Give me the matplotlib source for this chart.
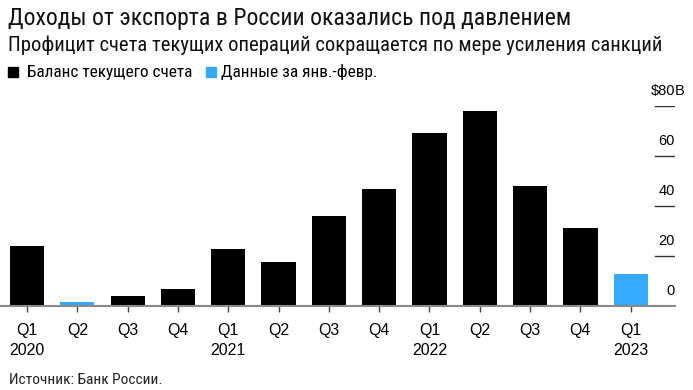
import matplotlib
matplotlib.use("Agg")
import matplotlib.pyplot as plt
import matplotlib.transforms as mtransforms
from matplotlib.patches import Rectangle

plt.rcParams['font.family'] = ['Liberation Sans', 'DejaVu Sans']
COND = ['Roboto Condensed', 'Liberation Sans', 'DejaVu Sans']

# data (current account balance, $B)
quarters = ['Q1', 'Q2', 'Q3', 'Q4', 'Q1', 'Q2', 'Q3', 'Q4', 'Q1', 'Q2', 'Q3', 'Q4', 'Q1']
years = ['2020', '', '', '', '2021', '', '', '', '2022', '', '', '', '2023']
balance = [24.0, 1.5, 4.1, 6.8, 22.8, 17.5, 35.9, 46.7, 69.3, 78.1, 48.0, 31.1, 12.7]
jan_feb_only = [False, True, False, False, False, False, False, False, False, False, False, False, True]
yticks = [0, 20, 40, 60, 80]

BLACK = '#000000'
BLUE = '#35a9fb'

W, H = 693, 390
fig = plt.figure(figsize=(W / 100, H / 100), dpi=100)
ax = fig.add_axes([0, 84 / H, 675 / W, 200 / H])

x = list(range(len(balance)))
colors = [BLUE if p else BLACK for p in jan_feb_only]
ax.bar(x, balance, width=0.68, color=colors, zorder=2)

ax.set_xlim(-0.537, 12.88)
ax.set_ylim(0, 80)

for s in ['top', 'right', 'left']:
    ax.spines[s].set_visible(False)
ax.spines['bottom'].set_color('#8a8a8a')
ax.spines['bottom'].set_linewidth(1.5)
ax.spines['bottom'].set_zorder(3)

labels = [q + '\n' + y if y else q + '\n ' for q, y in zip(quarters, years)]
ax.set_xticks(x)
ax.set_xticklabels(labels, fontsize=11.5, linespacing=1.4)
ax.tick_params(axis='x', length=4, width=1, color='#444444', pad=8.5)
ax.set_yticks([])

# right side value labels with short dashes
trans = mtransforms.blended_transform_factory(ax.transAxes, ax.transData)
for v in yticks:
    if v > 0:
        ax.axhline(v, xmin=0.970, xmax=1.0, color='#333333', lw=1.0)
    txt = '$80' if v == 80 else str(v)
    ax.annotate(txt, xy=(1.0, v), xycoords=trans, xytext=(0, 10.5), textcoords='offset points',
                ha='right', va='center', fontsize=10.5, annotation_clip=False)
ax.annotate('B', xy=(1.0, 80), xycoords=trans, xytext=(0, 10.5), textcoords='offset points',
            ha='left', va='center', fontsize=10.5, annotation_clip=False)

# titles
fig.text(8 / W, 1 - 19 / H, 'Доходы от экспорта в России оказались под давлением',
         fontsize=17.1, ha='left', va='center', color='#111111', family=COND)
fig.text(8 / W, 1 - 45 / H, 'Профицит счета текущих операций сокращается по мере усиления санкций',
         fontsize=14.9, ha='left', va='center', color='#111111', family=COND)

# legend
fig.patches.append(Rectangle((8 / W, 1 - 77 / H), 10 / W, 10 / H, transform=fig.transFigure,
                             color=BLACK, figure=fig))
fig.text(27 / W, 1 - 72 / H, 'Баланс текущего счета', fontsize=12.4, ha='left', va='center',
         family=COND)
fig.patches.append(Rectangle((206 / W, 1 - 77 / H), 10 / W, 10 / H, transform=fig.transFigure,
                             color=BLUE, figure=fig))
fig.text(221 / W, 1 - 72 / H, 'Данные за янв.-февр.', fontsize=12.4, ha='left', va='center',
         family=COND)

# source
fig.text(9 / W, 1 - 380 / H, 'Источник: Банк России.', fontsize=11.1, ha='left', va='center',
         color='#222222', family=COND)

fig.savefig('out.png', dpi=100)
